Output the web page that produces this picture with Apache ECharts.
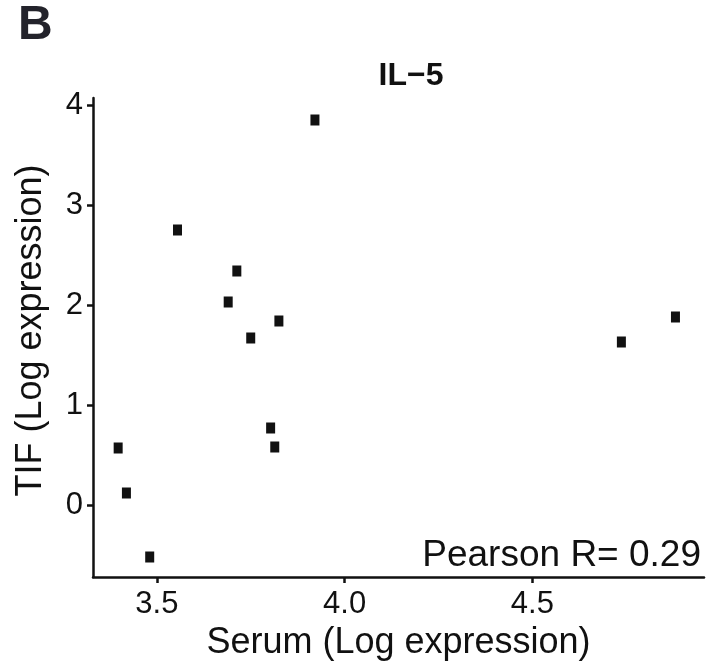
<!DOCTYPE html>
<html>
<head>
<meta charset="utf-8">
<script src="https://cdn.jsdelivr.net/npm/echarts@6/dist/echarts.min.js"></script>
<style>
  html, body { margin: 0; padding: 0; background: #fff; }
  #chart { width: 712px; height: 667px; }
</style>
</head>
<body>
<div id="chart"></div>
<script>
// serum vs TIF, log expression
const serumValues = [3.397, 3.419, 3.481, 3.555, 3.690, 3.713, 3.750, 3.825, 3.803, 3.814, 3.921, 4.737, 4.881];
const tifValues   = [0.57, 0.12, -0.52, 2.75, 2.03, 2.34, 1.67, 1.84, 0.77, 0.58, 3.85, 1.63, 1.88];
const xTicks = [3.5, 4.0, 4.5];
const yTicks = [0, 1, 2, 3, 4];
const pearsonR = 0.29;

const font = 'Liberation Sans, Arial, sans-serif';
const ink = '#111';

const points = serumValues.map((x, i) => [x, tifValues[i]]);

const chart = echarts.init(document.getElementById('chart'));
chart.setOption({
  animation: false,
  textStyle: { fontFamily: font, color: ink },
  grid: { left: 93, right: 8, top: 98, bottom: 90 },
  title: {
    text: 'IL\u22125',
    left: 406,
    top: 55,
    textAlign: 'center',
    textStyle: { fontFamily: font, fontSize: 32, fontWeight: 'bold', color: ink }
  },
  graphic: [
    {
      type: 'text', left: 18, top: 2,
      style: { text: 'B', font: 'bold 48px ' + font, fill: '#23232b' }
    },
    {
      type: 'text', x: 701, y: 574,
      style: {
        text: 'Pearson R= ' + pearsonR.toFixed(2),
        font: '37px ' + font, fill: ink,
        align: 'right', verticalAlign: 'bottom'
      }
    }
  ],
  xAxis: {
    type: 'value',
    min: 3.33,
    max: 4.957,
    splitLine: { show: false },
    axisLine: { onZero: false, lineStyle: { color: ink, width: 2.5 } },
    axisTick: { customValues: xTicks, length: 6, lineStyle: { color: ink, width: 2.5 } },
    axisLabel: {
      customValues: xTicks,
      formatter: v => v.toFixed(1),
      fontSize: 31, color: ink, margin: 12
    },
    name: 'Serum (Log expression)',
    nameLocation: 'middle',
    nameGap: 47,
    nameTextStyle: { fontSize: 36, color: ink, fontFamily: font }
  },
  yAxis: {
    type: 'value',
    min: -0.72,
    max: 4.07,
    splitLine: { show: false },
    axisLine: { onZero: false, lineStyle: { color: ink, width: 2.5 } },
    axisTick: { customValues: yTicks, length: 6, lineStyle: { color: ink, width: 2.5 } },
    axisLabel: {
      customValues: yTicks,
      fontSize: 31, color: ink, margin: 10
    },
    name: 'TIF (Log expression)',
    nameLocation: 'middle',
    nameGap: 44,
    nameTextStyle: { fontSize: 36, color: ink, fontFamily: font, padding: [0, 0, 0, 14] }
  },
  series: [{
    type: 'scatter',
    data: points,
    symbol: 'rect',
    symbolSize: [9, 11],
    itemStyle: { color: ink, opacity: 1 }
  }]
});
</script>
</body>
</html>
